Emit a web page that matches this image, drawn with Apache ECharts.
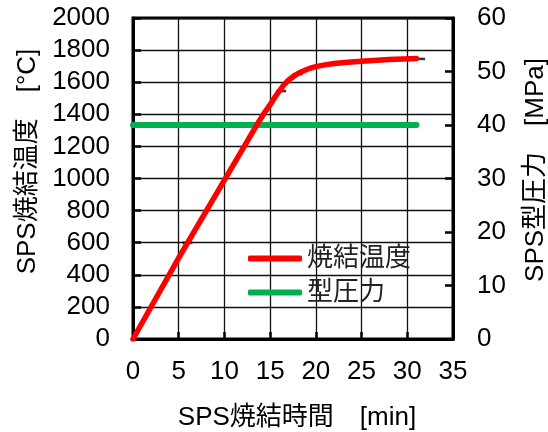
<!DOCTYPE html>
<html>
<head>
<meta charset="utf-8">
<script src="https://cdn.jsdelivr.net/npm/echarts@6/dist/echarts.min.js"></script>
<style>
html,body{margin:0;padding:0;background:#fff;}
#chart{width:548px;height:432px;}
</style>
</head>
<body>
<div id="chart"></div>
<script>
// ---- data ----
var tempTime = [0, 5, 10, 13.5, 14.5, 15, 15.5, 16, 16.5, 17, 17.5, 18, 18.5, 19, 19.5, 20, 21, 22, 23.5, 25, 28, 31];
var tempValue = [0, 505, 990, 1330, 1420, 1460, 1505, 1545, 1583, 1612, 1634, 1653, 1667, 1679, 1689, 1697, 1708, 1716, 1724, 1731, 1741, 1748];
var pressTime = [0, 31];
var pressValue = [40, 40];
var dashTime = [5.95, 16.2, 18.0, 31.4];
var dashValue = [600, 1545, 1650, 1745];
var xTicks = [0, 5, 10, 15, 20, 25, 30, 35];
var leftTicks = [0, 200, 400, 600, 800, 1000, 1200, 1400, 1600, 1800, 2000];
var rightTicks = [0, 10, 20, 30, 40, 50, 60];
var seriesNames = ['焼結温度', '型圧力'];
var xTitle = 'SPS焼結時間　[min]';
var leftTitle = 'SPS焼結温度　[°C]';
var rightTitle = 'SPS型圧力　[MPa]';

function pairs(xs, ys) { return xs.map(function (x, i) { return [x, ys[i]]; }); }
function plain(v) { return String(v); }

var FONT = "'Liberation Sans', 'Noto Sans CJK JP', sans-serif";
var FS = 26;

var chart = echarts.init(document.getElementById('chart'), null, {renderer: 'canvas'});
chart.setOption({
  animation: false,
  backgroundColor: '#fff',
  textStyle: {fontFamily: FONT},
  grid: {left: 133, right: 95, top: 18, bottom: 93, show: true, borderColor: '#000', borderWidth: 3, backgroundColor: 'transparent'},
  legend: {
    data: seriesNames,
    orient: 'vertical',
    left: 243, top: 240,
    itemWidth: 54, itemHeight: 6,
    itemGap: 7,
    icon: 'roundRect',
    textStyle: {fontSize: FS, lineHeight: 27, color: '#222', fontFamily: FONT}
  },
  xAxis: {
    type: 'value', min: xTicks[0], max: xTicks[xTicks.length - 1], interval: 5,
    axisLine: {lineStyle: {color: '#000', width: 3}},
    axisTick: {inside: true, length: 7, lineStyle: {color: '#000', width: 2.5}},
    axisLabel: {fontSize: FS, color: '#000', margin: 20, fontFamily: FONT, formatter: plain},
    splitLine: {show: true, lineStyle: {color: '#111', width: 1.3}}
  },
  yAxis: [{
    type: 'value', min: leftTicks[0], max: leftTicks[leftTicks.length - 1], interval: 200,
    axisLine: {show: true, lineStyle: {color: '#000', width: 3}},
    axisTick: {show: true, inside: true, length: 8, lineStyle: {color: '#000', width: 2.5}},
    axisLabel: {fontSize: FS, color: '#000', margin: 23, fontFamily: FONT, formatter: plain},
    splitLine: {show: true, lineStyle: {color: '#111', width: 1.3}}
  }, {
    type: 'value', min: rightTicks[0], max: rightTicks[rightTicks.length - 1], interval: 10,
    position: 'right',
    axisLine: {show: true, lineStyle: {color: '#000', width: 3}},
    axisTick: {show: true, inside: true, length: 8, lineStyle: {color: '#000', width: 2.5}},
    axisLabel: {fontSize: FS, color: '#000', margin: 24, fontFamily: FONT, formatter: plain},
    splitLine: {show: false}
  }],
  graphic: [
    {type: 'text', silent: true, x: 297, y: 418,
     style: {text: xTitle, font: FS + 'px ' + FONT, fill: '#000', textAlign: 'center', textVerticalAlign: 'middle'}},
    {type: 'text', silent: true, x: 28, y: 161.5, rotation: Math.PI / 2,
     style: {text: leftTitle, font: FS + 'px ' + FONT, fill: '#000', textAlign: 'center', textVerticalAlign: 'middle'}},
    {type: 'text', silent: true, x: 536, y: 170, rotation: Math.PI / 2,
     style: {text: rightTitle, font: FS + 'px ' + FONT, fill: '#000', textAlign: 'center', textVerticalAlign: 'middle'}}
  ],
  series: [{
    name: '_marks', type: 'scatter', yAxisIndex: 0, z: 1,
    symbol: 'rect', symbolSize: [10, 2.5],
    itemStyle: {color: '#000'},
    data: pairs(dashTime, dashValue)
  }, {
    name: seriesNames[0], type: 'line', yAxisIndex: 0, z: 3,
    data: pairs(tempTime, tempValue),
    smooth: false,
    showSymbol: false, symbol: 'none',
    itemStyle: {color: '#FF0000'},
    lineStyle: {color: '#FF0000', width: 5.5, cap: 'round', join: 'round'}
  }, {
    name: seriesNames[1], type: 'line', yAxisIndex: 1, z: 2,
    data: pairs(pressTime, pressValue),
    showSymbol: false, symbol: 'none',
    itemStyle: {color: '#00B050'},
    lineStyle: {color: '#00B050', width: 6, cap: 'round'}
  }]
});
</script>
</body>
</html>
